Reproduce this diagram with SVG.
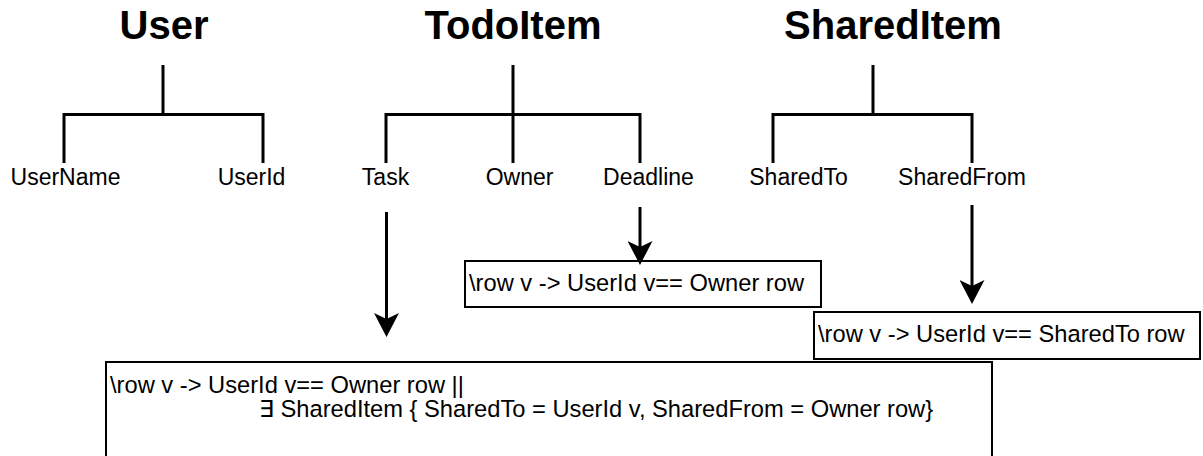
<svg xmlns="http://www.w3.org/2000/svg" width="1203" height="456" viewBox="0 0 1203 456">
<style>
.title{font-family:"Liberation Sans",Arial,sans-serif;font-weight:bold;font-size:40px;fill:#000;text-anchor:middle}
.lbl{font-family:"Liberation Sans",Arial,sans-serif;font-size:23px;fill:#000;text-anchor:middle}
.txt{font-family:"Liberation Sans",Arial,"DejaVu Sans",sans-serif;font-size:23.7px;fill:#000}
.tree{fill:none;stroke:#000;stroke-width:3;stroke-linejoin:miter;stroke-linecap:butt}
.box{fill:#fff;stroke:#000;stroke-width:2}
.arrow{fill:none;stroke:#000;stroke-width:3}
</style>
<defs>
<marker id="ah" viewBox="0 0 24 25" refX="6" refY="12.5" markerWidth="24" markerHeight="25" markerUnits="userSpaceOnUse" orient="auto">
<path d="M0,0 L24,12.5 L0,25 L6,12.5 Z" fill="#000"/>
</marker>
</defs>
<rect width="1203" height="456" fill="#fff"/>
<g id="user">
<text class="title" x="164" y="39">User</text>
<path class="tree" d="M163,65 V114.5 M64,163 V114.5 H263 V163"/>
<text class="lbl" x="65.5" y="185">UserName</text>
<text class="lbl" x="251.5" y="185">UserId</text>
</g>
<g id="todoitem">
<text class="title" x="513" y="39">TodoItem</text>
<path class="tree" d="M513,65 V163 M386,163 V114.5 H640 V163"/>
<text class="lbl" x="385.5" y="185">Task</text>
<text class="lbl" x="519.5" y="185">Owner</text>
<text class="lbl" x="648.5" y="185">Deadline</text>
</g>
<g id="shareditem">
<text class="title" x="893" y="39">SharedItem</text>
<path class="tree" d="M873,65 V114.5 M773,163 V114.5 H972 V163"/>
<text class="lbl" x="798.5" y="185">SharedTo</text>
<text class="lbl" x="962" y="185">SharedFrom</text>
</g>
<g id="box-owner">
<rect class="box" x="465" y="261" width="356" height="46"/>
<text class="txt" x="469" y="291">\row v -&gt; UserId v== Owner row</text>
</g>
<g id="box-shared">
<rect class="box" x="814" y="312" width="386" height="47"/>
<text class="txt" x="818" y="342">\row v -&gt; UserId v== SharedTo row</text>
</g>
<g id="box-task">
<rect class="box" x="106" y="362" width="886" height="96"/>
<text class="txt" x="110" y="393">\row v -&gt; UserId v== Owner row ||</text>
<text class="txt" x="259" y="417">∃ SharedItem { SharedTo = UserId v, SharedFrom = Owner row}</text>
</g>
<g id="connectors">
<line class="arrow" x1="386.5" y1="212" x2="386.5" y2="319" marker-end="url(#ah)"/>
<line class="arrow" x1="640" y1="207" x2="640" y2="247" marker-end="url(#ah)"/>
<line class="arrow" x1="972" y1="205" x2="972" y2="286" marker-end="url(#ah)"/>
</g>
</svg>
